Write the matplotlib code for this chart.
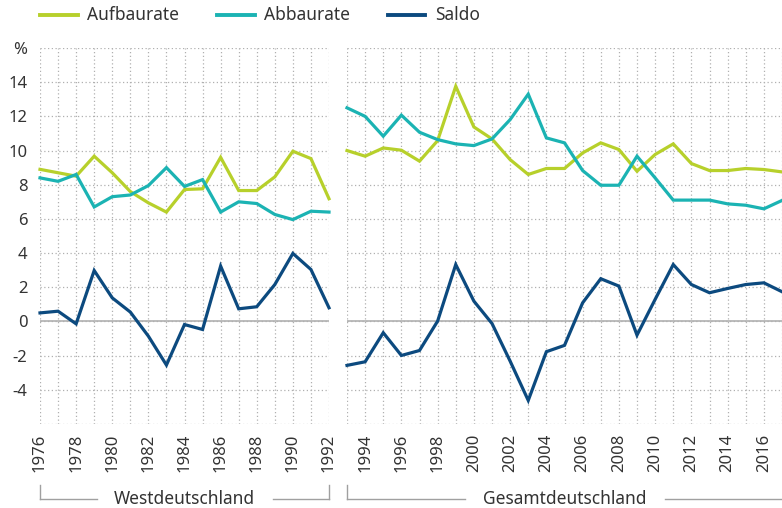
import matplotlib
matplotlib.use("Agg")
import matplotlib.pyplot as plt
from matplotlib.lines import Line2D
import numpy as np

plt.rcParams['font.family'] = ['Noto Sans', 'DejaVu Sans']

W, H = 782, 508

years_west = list(range(1976, 1993))
auf_west = [8.9, 8.7, 8.5, 9.67, 8.7, 7.6, 6.94, 6.4, 7.72, 7.76, 9.6, 7.66, 7.66, 8.46, 9.96, 9.53, 7.18]
abb_west = [8.4, 8.2, 8.6, 6.7, 7.3, 7.4, 7.95, 9.0, 7.9, 8.3, 6.4, 7.0, 6.9, 6.26, 5.96, 6.45, 6.4]
sal_west = [0.5, 0.6, -0.14, 2.98, 1.38, 0.55, -0.86, -2.55, -0.18, -0.47, 3.24, 0.74, 0.86, 2.16, 3.98, 3.04, 0.8]

years_ges = list(range(1993, 2018))
auf_ges = [10.0, 9.67, 10.15, 10.02, 9.38, 10.58, 13.76, 11.38, 10.68, 9.47, 8.6, 8.95, 8.95,
           9.86, 10.45, 10.06, 8.79, 9.77, 10.39, 9.24, 8.83, 8.83, 8.95, 8.89, 8.75]
abb_ges = [12.5, 12.0, 10.84, 12.07, 11.07, 10.64, 10.39, 10.29, 10.68, 11.81, 13.3, 10.74, 10.45,
           8.83, 7.97, 7.97, 9.67, 8.4, 7.1, 7.1, 7.1, 6.88, 6.8, 6.59, 7.08]
sal_ges = [-2.57, -2.36, -0.66, -1.99, -1.7, 0.02, 3.33, 1.19, -0.12, -2.32, -4.62, -1.77, -1.4,
           1.09, 2.5, 2.07, -0.8, 1.29, 3.33, 2.16, 1.68, 1.93, 2.16, 2.26, 1.74]

series_names = ["Aufbaurate", "Abbaurate", "Saldo"]
colors = ["#b7d02b", "#1bb3b3", "#0c4a7f"]
yticks = [-4, -2, 0, 2, 4, 6, 8, 10, 12, 14]
region_labels = ["Westdeutschland", "Gesamtdeutschland"]

txt = "#333333"
gridc = "#b0b0b0"

fig = plt.figure(figsize=(W / 100, H / 100), dpi=100)

def fx(px):
    return px / W

def fy(py):
    return 1 - py / H

top, bot = 48, 424
axL = fig.add_axes([fx(40), fy(bot), fx(329) - fx(40), fy(top) - fy(bot)])
axR = fig.add_axes([fx(347), fy(bot), fx(782) - fx(347), fy(top) - fy(bot)])

for ax, yrs, a, b, s in [(axL, years_west, auf_west, abb_west, sal_west),
                         (axR, years_ges, auf_ges, abb_ges, sal_ges)]:
    ax.set_xlim(yrs[0], yrs[-1])
    ax.set_ylim(-6, 16)
    for sp in ax.spines.values():
        sp.set_visible(False)
    ax.set_yticks(list(range(-6, 17, 2)))
    ax.set_xticks(yrs)
    ax.grid(True, linestyle=(0, (1.0, 2.0)), color=gridc, linewidth=0.9)
    ax.set_axisbelow(True)
    ax.axhline(0, color="#b0b0b0", linewidth=1.2, zorder=1)
    for vals, c in zip([a, b, s], colors):
        ax.plot(yrs, vals, color=c, linewidth=2.3, solid_joinstyle='miter', zorder=3, clip_on=False)
    ax.tick_params(axis='both', length=0, labelsize=12, colors=txt, pad=7)
    ax.set_xticklabels([str(y) if (y % 2 == 0) else "" for y in yrs], rotation=90)
    ax.set_yticklabels([])

# y tick labels on left
axL.set_yticklabels([str(v) if v in yticks else ("%" if v == 16 else "") for v in range(-6, 17, 2)])
axL.tick_params(axis='y', pad=9)

# region brackets
def bracket(x0, x1, label, left_tick=True, right_tick=True):
    yl = 499
    ytop = 485
    xm = (x0 + x1) / 2
    fig.text(fx(xm), fy(yl), label, ha='center', va='center', fontsize=12.5, color=txt)
    half = 88 if label.startswith("W") else 100
    fig.add_artist(Line2D([fx(x0), fx(xm - half)], [fy(yl), fy(yl)], color="#a0a0a0", lw=1))
    fig.add_artist(Line2D([fx(xm + half), fx(x1)], [fy(yl), fy(yl)], color="#a0a0a0", lw=1))
    if left_tick:
        fig.add_artist(Line2D([fx(x0), fx(x0)], [fy(ytop), fy(yl)], color="#a0a0a0", lw=1))
    if right_tick:
        fig.add_artist(Line2D([fx(x1), fx(x1)], [fy(ytop), fy(yl)], color="#a0a0a0", lw=1))

bracket(40, 329, region_labels[0])
bracket(347, 782, region_labels[1], right_tick=False)

# legend
leg = [(40, 78, 87), (217, 255, 264), (388, 425, 435)]
for (l0, l1, tx), name, c in zip(leg, series_names, colors):
    fig.add_artist(Line2D([fx(l0), fx(l1)], [fy(15), fy(15)], color=c, lw=2.8))
    fig.text(fx(tx), fy(15), name, ha='left', va='center', fontsize=12.5, color=txt)

fig.savefig("out.png", dpi=100)
